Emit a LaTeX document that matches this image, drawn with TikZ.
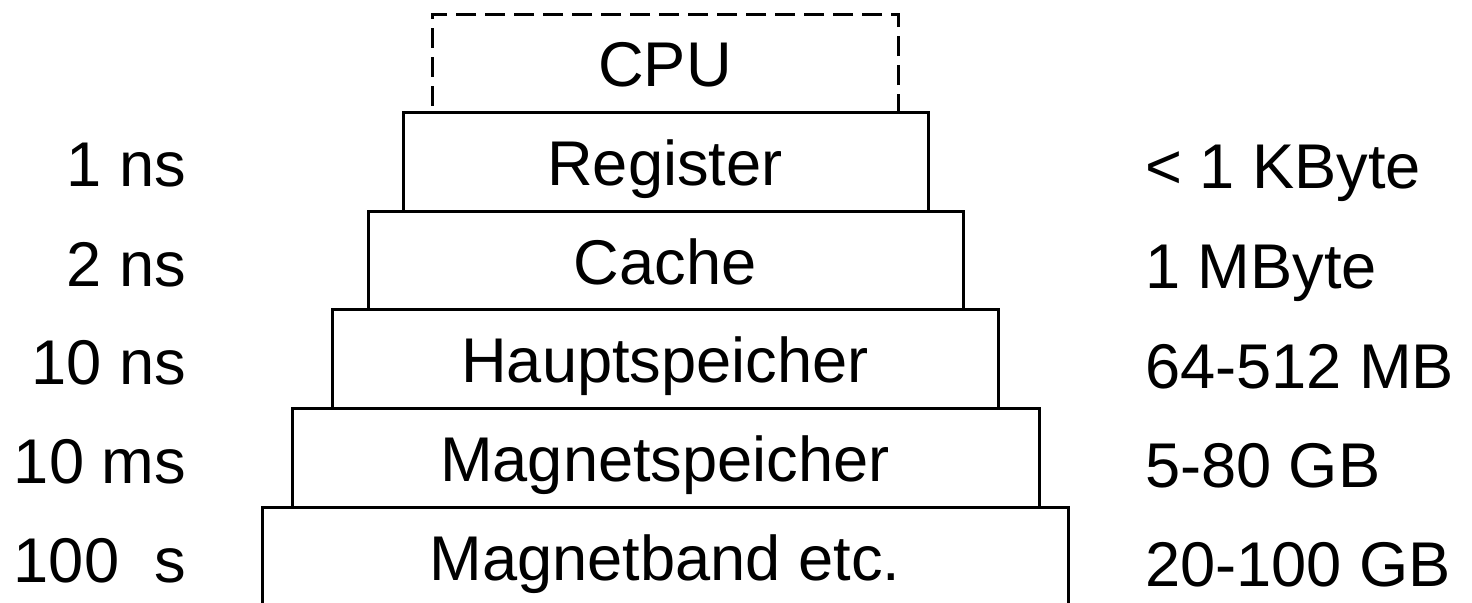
\documentclass[tikz,border=0pt]{standalone}
\usepackage{fontspec}
\setmainfont{Liberation Sans}
\begin{document}
\begin{tikzpicture}[x=0.5pt,y=-0.5pt,
  lvl/.style={draw, line width=1.5pt, rectangle, inner sep=0pt, outer sep=0pt},
  cpubox/.style={lvl, dash pattern=on 10pt off 4.5pt},
  txt/.style={font=\fontsize{31.6}{37}\selectfont, inner sep=0pt, outer sep=0pt},
  ctxt/.style={txt, anchor=base},
  ltxt/.style={txt, anchor=base east},
  rtxt/.style={txt, anchor=base west}
]
\useasboundingbox (0,0) rectangle (1472,602);
% boxes
\node[cpubox, minimum width=233pt, minimum height=49pt] (cpu) at (665,63) {};
\node[lvl, minimum width=262.5pt, minimum height=49.5pt] (reg) at (665.5,161.5) {};
\node[lvl, minimum width=297.5pt, minimum height=49pt] (cache) at (665.5,260) {};
\node[lvl, minimum width=333pt, minimum height=49.5pt] (haupt) at (665,358.5) {};
\node[lvl, minimum width=373.5pt, minimum height=49.5pt] (msp) at (665.5,457.5) {};
\node[lvl, minimum width=403pt, minimum height=49.5pt] (mband) at (665,556.5) {};
% box texts
\node[ctxt] (tcpu) at (665,86) {CPU};
\node[ctxt] (treg) at (665,185) {Register};
\node[ctxt] (tcache) at (665,284) {Cache};
\node[ctxt] (thaupt) at (665,382) {Hauptspeicher};
\node[ctxt] (tmsp) at (665,481) {Magnetspeicher};
\node[ctxt] (tmband) at (665,580) {Magnetband etc.};
% access times
\node[ltxt] (l1) at (186,186) {1 ns};
\node[ltxt] (l2) at (186,286) {2 ns};
\node[ltxt] (l3) at (186,384) {10 ns};
\node[ltxt] (l4) at (186,483) {10 ms};
\node[ltxt] (l5) at (186,582) {100\ \ s};
% sizes
\node[rtxt] (r1) at (1145,188) {< 1 KByte};
\node[rtxt] (r2) at (1145,288) {1 MByte};
\node[rtxt] (r3) at (1145,388) {64-512 MB};
\node[rtxt] (r4) at (1145,487) {5-80 GB};
\node[rtxt] (r5) at (1145,586) {20-100 GB};
\end{tikzpicture}
\end{document}
